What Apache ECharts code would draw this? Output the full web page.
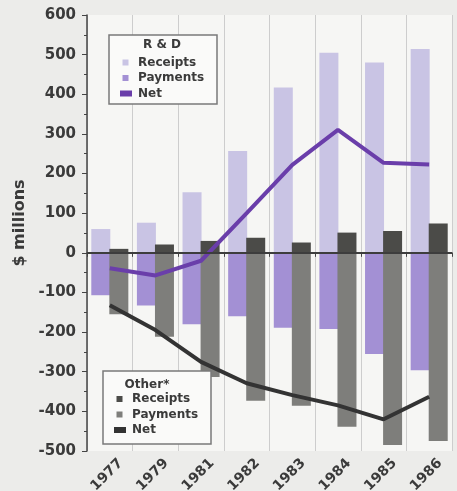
<!DOCTYPE html>
<html>
<head>
<meta charset="utf-8">
<script src="https://cdn.jsdelivr.net/npm/echarts@6/dist/echarts.min.js"></script>
<style>
  html, body { margin: 0; padding: 0; background: #ececea; }
  #chart { width: 457px; height: 491px; }
</style>
</head>
<body>
<div id="chart"></div>
<script>
// data ($ millions)
var years = ['1977', '1979', '1981', '1982', '1983', '1984', '1985', '1986'];
var rdReceipts = [60, 76, 153, 257, 417, 505, 480, 514];
var rdPayments = [-107, -133, -180, -160, -189, -192, -255, -296];
var rdNet = [-39, -57, -20, 100, 222, 310, 227, 223];
var otherReceipts = [10, 21, 30, 38, 26, 51, 55, 74];
var otherPayments = [-155, -212, -313, -373, -386, -439, -485, -475];
var otherNet = [-132, -195, -275, -329, -359, -385, -420, -363];
var yMin = -500, yMax = 600, yStep = 100;

var font = 'DejaVu Sans';
var ink = '#3a3a3a';
// legend icons: small square / wider bar inside a 13x7 box
var sq = 'path://M0,0M13,7M2.5,0.5h6v6h-6z';
var bar = 'path://M0,0M13,7M0,0.5h12v6h-12z';

var chart = echarts.init(document.getElementById('chart'));

var legendText = { color: ink, fontWeight: 'bold', fontSize: 12, lineHeight: 15, fontFamily: font };

var option = {
  backgroundColor: '#ececea',
  textStyle: { fontFamily: font },
  grid: {
    left: 87, right: 5, top: 15, bottom: 40,
    outerBoundsMode: 'none', containLabel: false,
    show: true, backgroundColor: '#f6f6f4', borderWidth: 0
  },
  xAxis: {
    type: 'category',
    data: years,
    axisLine: { lineStyle: { color: '#444', width: 1.5 } },
    axisTick: { show: true, length: 4, lineStyle: { color: '#444' } },
    splitLine: { show: true, lineStyle: { color: '#cdcdcd', width: 1 } },
    axisLabel: {
      rotate: 45, align: 'center', verticalAlign: 'middle', margin: 21,
      color: ink, fontWeight: 'bold', fontSize: 14, fontFamily: font,
      padding: [0, 8, 0, 0]
    }
  },
  yAxis: {
    type: 'value',
    min: yMin, max: yMax, interval: yStep,
    name: '$ millions',
    nameLocation: 'middle',
    nameRotate: 90,
    nameGap: 54,
    nameTextStyle: { color: ink, fontWeight: 'bold', fontSize: 16, fontFamily: font, padding: [0, 0, 0, 20] },
    axisLine: { show: true, lineStyle: { color: '#444', width: 1.5 } },
    axisTick: { show: true, length: 5, lineStyle: { color: '#444' } },
    minorTick: { show: true, splitNumber: 2, length: 3, lineStyle: { color: '#444' } },
    splitLine: { show: false },
    axisLabel: { color: ink, fontWeight: 'bold', fontSize: 15, fontFamily: font, margin: 11 }
  },
  legend: [
    {
      data: [
        { name: 'R&D Receipts', icon: sq },
        { name: 'R&D Payments', icon: sq },
        { name: 'R&D Net', icon: bar }
      ],
      orient: 'vertical', left: 120, top: 55, z: 110, padding: 0,
      itemWidth: 13, itemHeight: 7, itemGap: 0.5,
      formatter: function (n) { return n.replace('R&D ', ''); },
      textStyle: legendText
    },
    {
      data: [
        { name: 'Other Receipts', icon: sq },
        { name: 'Other Payments', icon: sq },
        { name: 'Other Net', icon: bar }
      ],
      orient: 'vertical', left: 114, top: 391.5, z: 110, padding: 0,
      itemWidth: 13, itemHeight: 7, itemGap: 0.5,
      formatter: function (n) { return n.replace('Other ', ''); },
      textStyle: legendText
    }
  ],
  graphic: [
    { type: 'rect', z: 100, shape: { x: 109, y: 35, width: 108, height: 69 },
      style: { fill: '#fafaf9', stroke: '#7a7a7a', lineWidth: 1.5 } },
    { type: 'text', z: 110, x: 162, y: 45,
      style: { text: 'R & D', fill: ink, font: 'bold 12px "DejaVu Sans"', textAlign: 'center', textVerticalAlign: 'middle' } },
    { type: 'rect', z: 100, shape: { x: 103, y: 371, width: 108, height: 73 },
      style: { fill: '#fafaf9', stroke: '#7a7a7a', lineWidth: 1.5 } },
    { type: 'text', z: 110, x: 147, y: 385,
      style: { text: 'Other*', fill: ink, font: 'bold 12px "DejaVu Sans"', textAlign: 'center', textVerticalAlign: 'middle' } }
  ],
  series: [
    {
      name: 'R&D Receipts', type: 'bar', stack: 'rd', data: rdReceipts,
      barWidth: 19, barGap: '-5%',
      itemStyle: { color: '#c9c4e4' }
    },
    {
      name: 'R&D Payments', type: 'bar', stack: 'rd', data: rdPayments,
      itemStyle: { color: '#a390d4' }
    },
    {
      name: 'Other Receipts', type: 'bar', stack: 'other', data: otherReceipts,
      barWidth: 19,
      itemStyle: { color: '#4b4b48' }
    },
    {
      name: 'Other Payments', type: 'bar', stack: 'other', data: otherPayments,
      itemStyle: { color: '#7e7e7b' }
    },
    {
      name: 'R&D Net', type: 'line', data: rdNet,
      symbol: 'none', itemStyle: { color: '#6a3eaa' },
      lineStyle: { color: '#6a3eaa', width: 4 }
    },
    {
      name: 'Other Net', type: 'line', data: otherNet,
      symbol: 'none', itemStyle: { color: '#333333' },
      lineStyle: { color: '#333333', width: 4 },
      markLine: {
        silent: true, symbol: 'none', label: { show: false },
        lineStyle: { color: '#3d3d3d', width: 2, type: 'solid' },
        data: [{ yAxis: 0 }]
      }
    }
  ]
};

chart.setOption(option);
</script>
</body>
</html>
